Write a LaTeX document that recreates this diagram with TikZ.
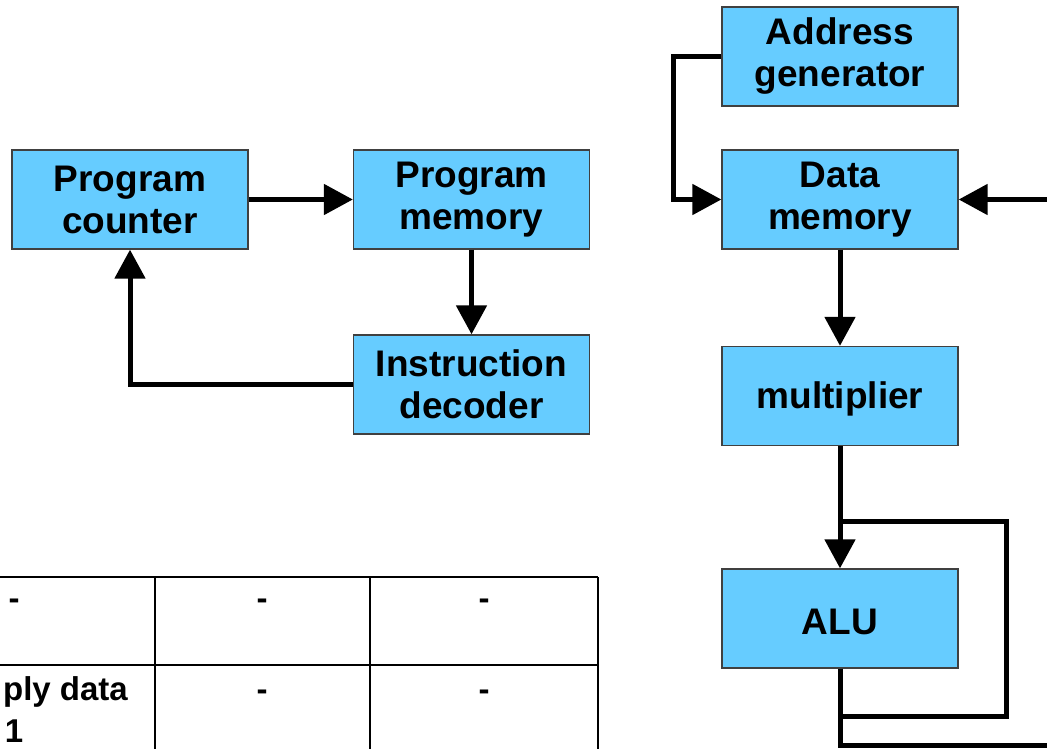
\documentclass[tikz,border=0pt]{standalone}
\usepackage{fontspec}
\setmainfont{Liberation Sans}
\usetikzlibrary{positioning,arrows.meta}

\definecolor{boxblue}{HTML}{66CCFF}

\begin{document}
\begin{tikzpicture}[x=1pt, y=-1pt,
    unit/.style = {draw=black!75, line width=1.3pt, fill=boxblue,
                   minimum width=236pt, minimum height=99pt,
                   align=center, inner sep=0pt,
                   execute at begin node={\rule{0pt}{33pt}},
                   font=\bfseries\fontsize{37}{42}\selectfont},
    wire/.style = {line width=5pt},
    arr/.style  = {wire, -{Triangle[length=29pt, width=30pt]}},
    grid/.style = {line width=2pt},
    cell/.style = {anchor=base, inner sep=0pt,
                   font=\bfseries\fontsize{33}{44}\selectfont}]
    \useasboundingbox (0,0) rectangle (1047,749);

    % program side
    \node[unit] at (130,199.5) (PC) {Program\\counter};
    \node[unit] at (471.5,199.5) (PM) {Program\\memory};
    \node[unit] at (471.5,384.5) (ID) {Instruction\\decoder};

    \draw [arr] (PC) -- (PM);
    \draw [arr] (PM) -- (ID);
    \draw [arr] (ID.west) -| (PC.south);

    % data side
    \node[unit] at (840,56.5) (AG) {Address\\generator};
    \node[unit] at (840,199.5) (DM) {Data\\memory};
    \node[unit] at (840,396) (MUL) {multiplier};
    \node[unit] at (840,618.5) (ALU) {ALU};

    \coordinate (agbend) at (673,56.5);
    \coordinate (ext) at (1047,199.5);
    \coordinate (loopR) at (1006,716);
    \coordinate (loopT) at (840,521);
    \coordinate (out) at (1047,745);

    \draw [arr] (AG.west) -- (agbend) |- (DM.west);
    \draw [arr] (ext) -- (DM.east);
    \draw [arr] (DM) -- (MUL);
    \draw [arr] (MUL) -- (ALU);
    \draw [wire] (ALU.south) |- (loopR) |- (loopT);
    \draw [wire] (ALU.south) |- (out);

    % table
    \draw [grid] (0,577) -- (598,577);
    \draw [grid] (0,665) -- (598,665);
    \draw [grid] (155,577) -- (155,749);
    \draw [grid] (370,577) -- (370,749);
    \draw [grid] (598,577) -- (598,749);

    \node[cell] at (14,609) (c11) {-};
    \node[cell] at (262,609) (c12) {-};
    \node[cell] at (484,609) (c13) {-};
    \node[cell, anchor=base east] at (128,700) (c21) {ply data};
    \node[cell] at (14,742) (c21b) {1};
    \node[cell] at (262,700) (c22) {-};
    \node[cell] at (484,700) (c23) {-};
\end{tikzpicture}
\end{document}
